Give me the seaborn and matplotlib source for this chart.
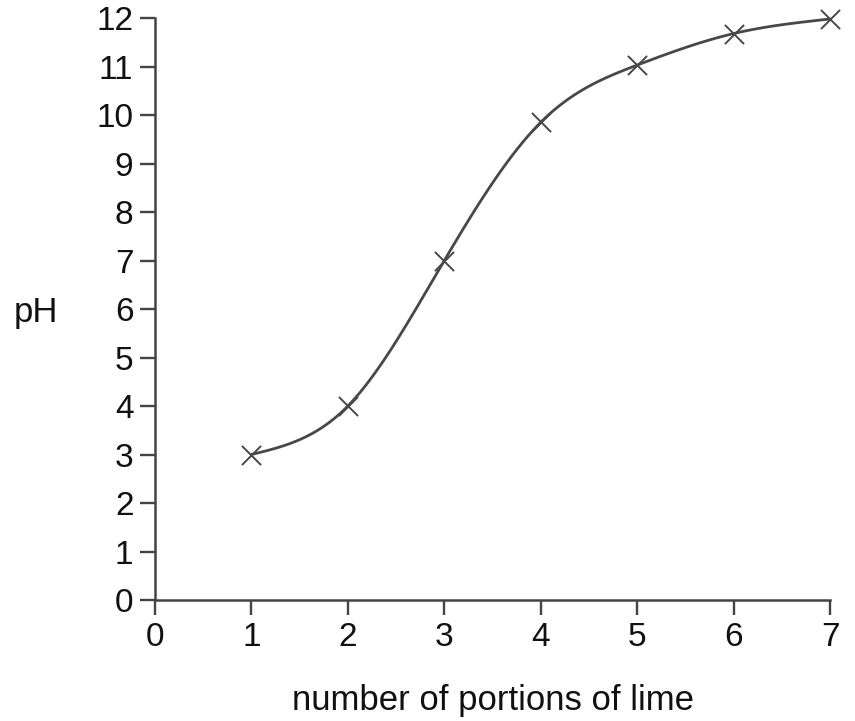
import numpy as np
import pandas as pd
import matplotlib
matplotlib.use("Agg")
import matplotlib.pyplot as plt
import seaborn as sns

# values
portions = [1, 2, 3, 4, 5, 6, 7]
ph_values = [3.0, 4.0, 7.0, 9.85, 11.03, 11.68, 11.98]
x_ticks = [0, 1, 2, 3, 4, 5, 6, 7]
y_ticks = list(range(0, 13))


def natural_spline(x, y, n=400):
    # natural cubic spline so the drawn curve passes smoothly through the points
    x = np.asarray(x, float)
    y = np.asarray(y, float)
    k = len(x)
    h = np.diff(x)
    A = np.zeros((k, k))
    b = np.zeros(k)
    A[0, 0] = A[-1, -1] = 1
    for i in range(1, k - 1):
        A[i, i - 1] = h[i - 1]
        A[i, i] = 2 * (h[i - 1] + h[i])
        A[i, i + 1] = h[i]
        b[i] = 3 * ((y[i + 1] - y[i]) / h[i] - (y[i] - y[i - 1]) / h[i - 1])
    c = np.linalg.solve(A, b)
    xs = np.linspace(x[0], x[-1], n)
    idx = np.clip(np.searchsorted(x, xs) - 1, 0, k - 2)
    dx = xs - x[idx]
    bi = (y[idx + 1] - y[idx]) / h[idx] - h[idx] * (2 * c[idx] + c[idx + 1]) / 3
    di = (c[idx + 1] - c[idx]) / (3 * h[idx])
    ys = y[idx] + bi * dx + c[idx] * dx ** 2 + di * dx ** 3
    return xs, ys


sns.set_style("ticks")
plt.rcParams["font.family"] = ["Liberation Sans", "DejaVu Sans"]

fig = plt.figure(figsize=(8.55, 7.21), dpi=100)
ax = fig.add_axes([0.1813, 0.1678, 0.7895, 0.8072])

xs, ys = natural_spline(portions, ph_values)
curve = pd.DataFrame({"x": xs, "y": ys})
pts = pd.DataFrame({"portions": portions, "pH": ph_values})

sns.lineplot(data=curve, x="x", y="y", ax=ax, color="#484848", linewidth=2.0,
             sort=False, clip_on=False)
sns.scatterplot(data=pts, x="portions", y="pH", ax=ax, marker="x", s=190,
                color="#484848", linewidth=1.4, clip_on=False, zorder=3)

ax.set_xlim(0, 7)
ax.set_ylim(0, 12)
ax.set_xticks(x_ticks)
ax.set_yticks(y_ticks)
ax.tick_params(axis="both", labelsize=24, length=10.5, width=1.7,
               color="#444444", labelcolor="#111111")
ax.tick_params(axis="y", pad=5)
ax.tick_params(axis="x", pad=5)

sns.despine(ax=ax)
for side in ("left", "bottom"):
    ax.spines[side].set_linewidth(1.8)
    ax.spines[side].set_color("#444444")

ax.set_xlabel("")
ax.set_ylabel("")
ax.text(0.50, -0.189, "number of portions of lime", transform=ax.transAxes,
        fontsize=25, color="#111111", ha="center", va="baseline")
ax.text(-0.176, 0.478, "pH", transform=ax.transAxes,
        fontsize=25, color="#111111", ha="center", va="baseline")

fig.savefig("out.png", dpi=100, facecolor="white")
